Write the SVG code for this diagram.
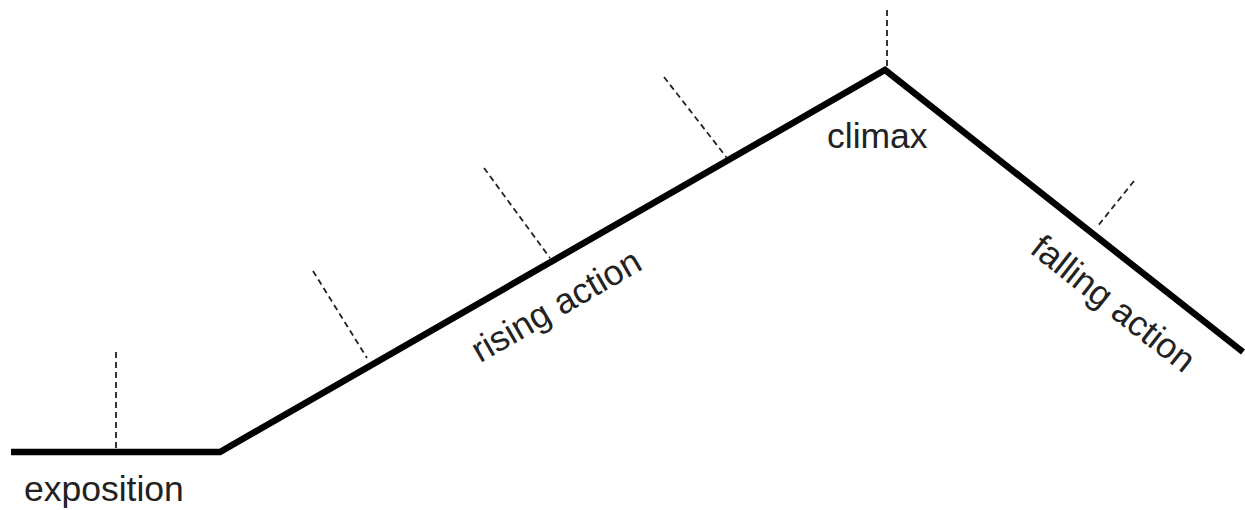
<svg xmlns="http://www.w3.org/2000/svg" width="1245" height="510" viewBox="0 0 1245 510">
<style>
.main{fill:none;stroke:#000;stroke-width:6.5;stroke-linejoin:miter;stroke-linecap:butt}
.dash{fill:none;stroke:#222;stroke-width:1.8;stroke-dasharray:6 4}
.lbl{font-family:"Liberation Sans",Arial,sans-serif;font-size:35.5px;fill:#222}
</style>
<rect width="1245" height="510" fill="#fff"/>
<g id="connectors">
<polyline class="main" points="11,452 220,452 885,70 1243,352"/>
<line class="dash" x1="116" y1="352" x2="116" y2="449"/>
<line class="dash" x1="313" y1="271" x2="367" y2="358"/>
<line class="dash" x1="484" y1="168" x2="550" y2="258"/>
<line class="dash" x1="664" y1="77" x2="727" y2="158"/>
<line class="dash" x1="887" y1="10" x2="887" y2="68"/>
<line class="dash" x1="1134" y1="181" x2="1097" y2="227"/>
</g>
<g id="exposition"><text class="lbl" x="24" y="501">exposition</text></g>
<g id="rising"><text class="lbl" text-anchor="middle" transform="translate(562,316) rotate(-30)">rising action</text></g>
<g id="climax"><text class="lbl" x="827" y="148">climax</text></g>
<g id="falling"><text class="lbl" text-anchor="middle" transform="translate(1106,313) rotate(38.2)">falling action</text></g>
</svg>
